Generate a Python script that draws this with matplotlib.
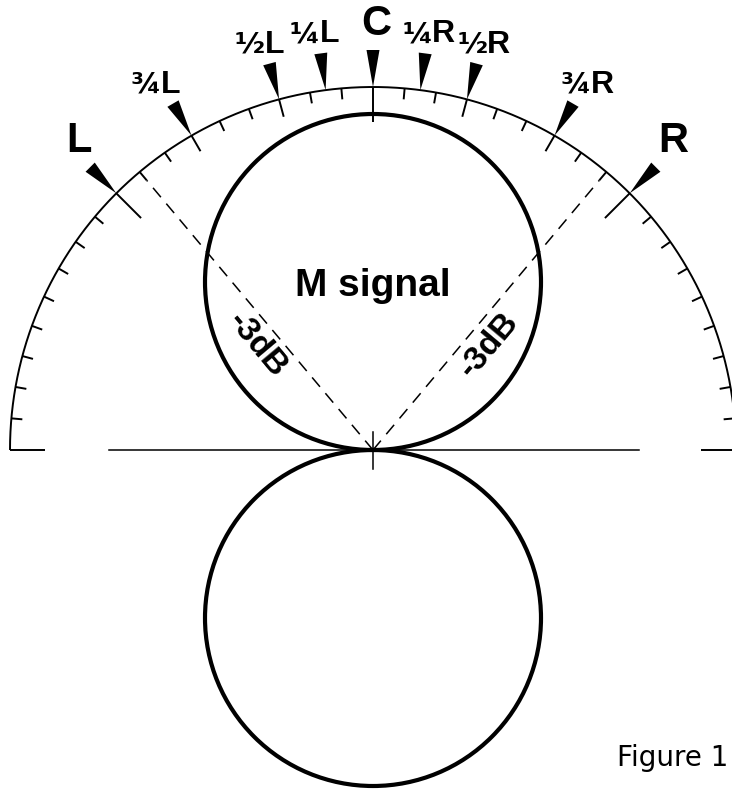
import matplotlib.pyplot as plt
import numpy as np
from matplotlib.patches import Circle, Polygon

plt.rcParams["font.family"] = ["Liberation Sans", "DejaVu Sans"]

# --- Diagram values (angles in degrees from centre front, negative = left) ---
long_tick_angles = [-90, -45, 0, 45, 90]
mid_tick_angles = [-30, -15, 15, 30]
minor_tick_angles = [a for a in range(-85, 90, 5)
                     if a not in long_tick_angles + mid_tick_angles]
pointer_angles = [-45, -30, -15, -7.5, 0, 7.5, 15, 30, 45]
pointer_labels = ["L", "¾L", "½L", "¼L", "C", "¼R", "½R", "¾R", "R"]
half_power_angle = 40
half_power_label = "-3dB"
lobe_label = "M signal"
caption = "Figure 1"

# --- Geometry (pixel-ish units, origin at the microphone) ---
ARC_R = 363
LOBE_R = 168
POINTER_LEN = 37


def polar(r, a):
    t = np.radians(a)
    return r * np.sin(t), r * np.cos(t)


fig = plt.figure(figsize=(7.32, 7.96), dpi=100)
ax = fig.add_axes([0, 0, 1, 1])
ax.set_xlim(-373, 359)
ax.set_ylim(-346, 450)
ax.set_aspect("equal")
ax.axis("off")

# scale arc
x, y = polar(ARC_R, np.linspace(-90, 90, 500))
ax.plot(x, y, color="black", lw=1.4, solid_capstyle="butt")

# ticks on the inside of the arc
for angles, length in [(minor_tick_angles, 11), (mid_tick_angles, 18),
                       (long_tick_angles, 35)]:
    for a in angles:
        x0, y0 = polar(ARC_R, a)
        x1, y1 = polar(ARC_R - length, a)
        ax.plot([x0, x1], [y0, y1], color="black", lw=1.4,
                solid_capstyle="butt")

# pointers + labels
for a, lab in zip(pointer_angles, pointer_labels):
    t = np.radians(a)
    perp = np.array([np.cos(t), -np.sin(t)])
    tip = np.array(polar(ARC_R, a))
    base = np.array(polar(ARC_R + POINTER_LEN, a))
    ax.add_patch(Polygon([tip, base + perp * 6.5, base - perp * 6.5],
                         closed=True, color="black", lw=0))
    if len(lab) == 1:
        ax.text(base[0] + 20 * np.sin(t) + 3, base[1] + 26, lab,
                ha="center", va="center", fontsize=30, fontweight="bold")
    else:
        # fraction glyph and letter set side by side
        split = base[0] + 30 * np.sin(t) + 3
        cy = base[1] + 19
        ax.text(split, cy, lab[0], ha="right", va="center", fontsize=21,
                fontweight="bold", family="DejaVu Sans")
        ax.text(split, cy, lab[1], ha="left", va="center", fontsize=23,
                fontweight="bold")

# baseline and centre cross
ax.plot([-264, 266], [0, 0], color="black", lw=1.1)
ax.plot([0, 0], [-19, 18], color="black", lw=1.1)

# figure-of-eight lobes
for sgn in (1, -1):
    ax.add_patch(Circle((0, sgn * LOBE_R), LOBE_R, fill=False,
                        ec="black", lw=3.0))

# -3dB directions
for sgn in (-1, 1):
    xe, ye = polar(352, sgn * half_power_angle)
    ax.plot([0, xe], [0, ye], color="black", lw=1.1, ls=(0, (8, 5.5)))
    px, py = polar(155, sgn * half_power_angle)
    t = np.radians(half_power_angle)
    ax.text(px + sgn * 21 * np.cos(t), py - 21 * np.sin(t), half_power_label,
            rotation=sgn * (90 - half_power_angle), rotation_mode="anchor",
            ha="center", va="center", fontsize=24, fontweight="bold")

ax.text(0, LOBE_R - 4, lobe_label, ha="center", va="center",
        fontsize=28, fontweight="bold")

ax.text(300, -308, caption, ha="center", va="center", fontsize=20,
        family="DejaVu Sans")

fig.savefig("out.png", dpi=100, facecolor="white")
